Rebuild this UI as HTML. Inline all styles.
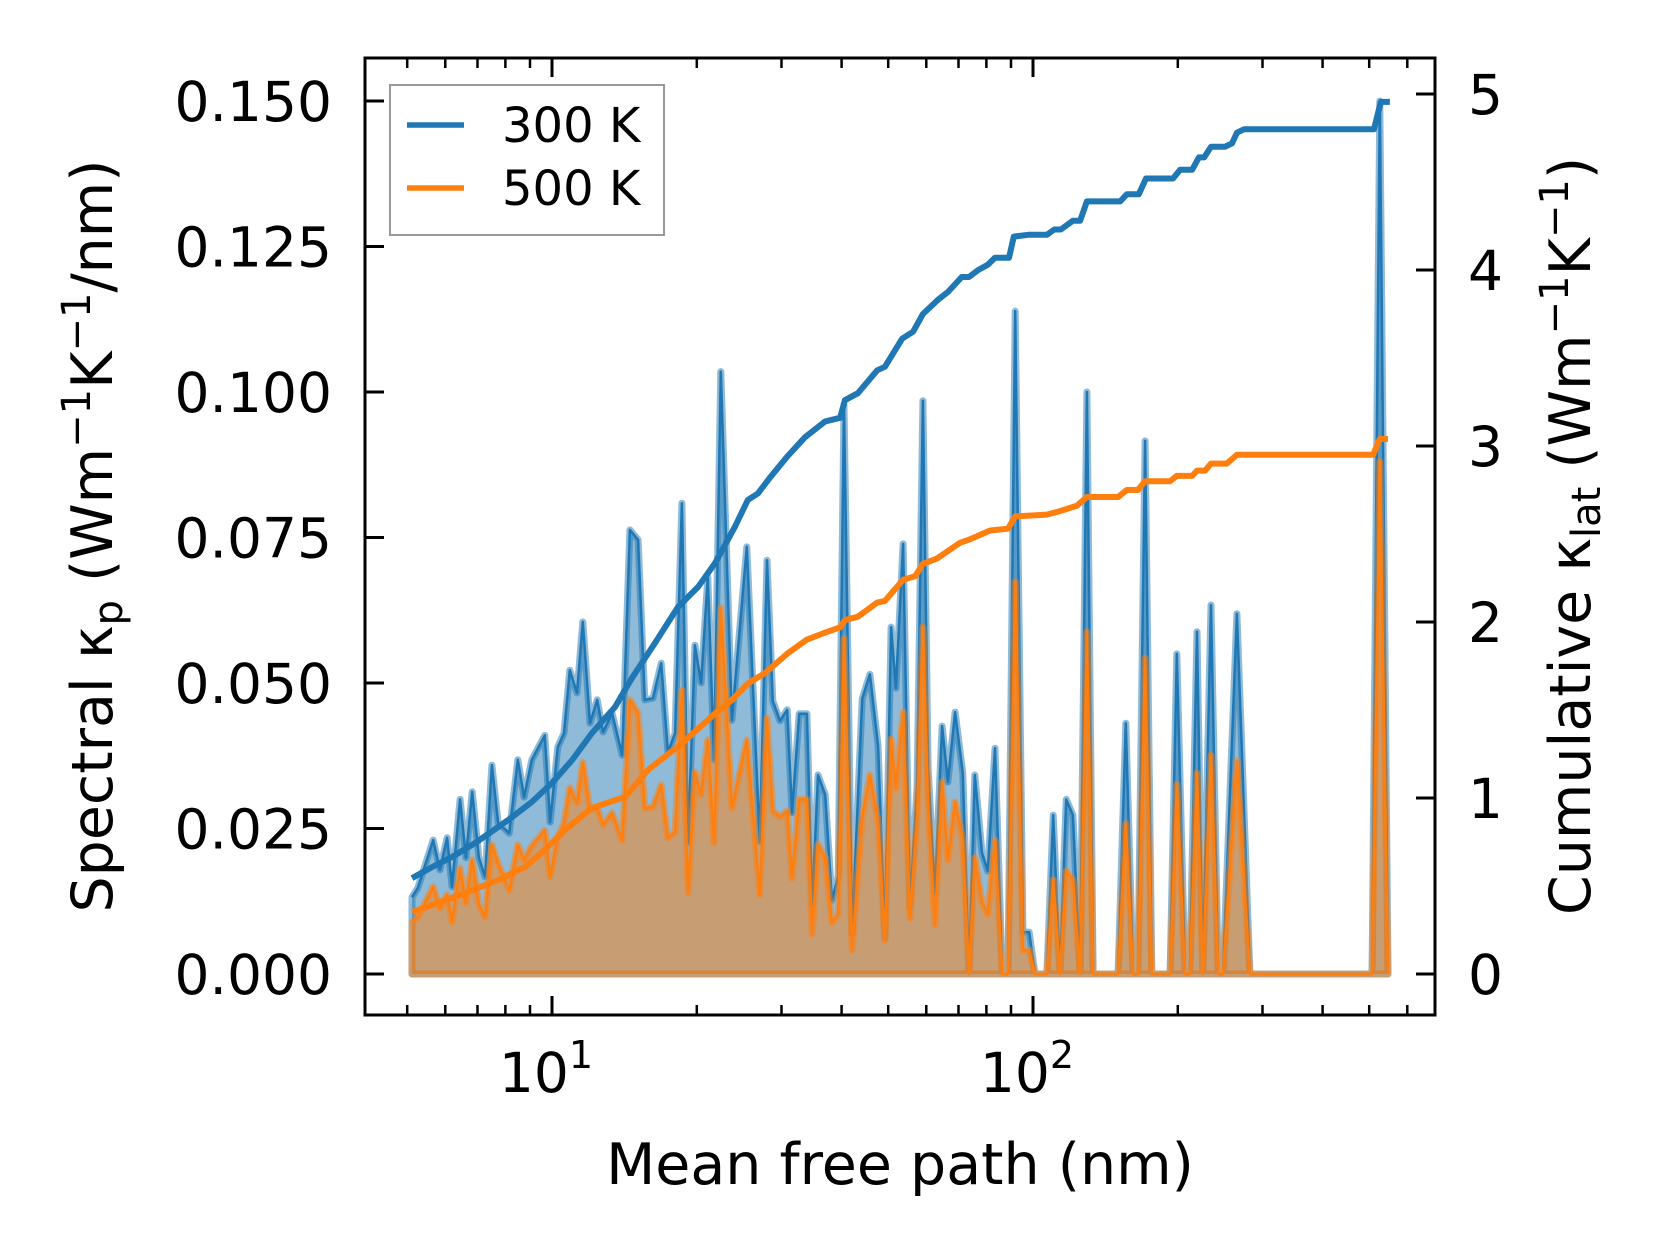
<!DOCTYPE html>
<html><head><meta charset="utf-8">
<style>
html,body{margin:0;padding:0;background:#fff;}
svg{display:block;font-family:"DejaVu Sans","Liberation Sans",sans-serif;}
</style></head>
<body>
<svg id="chart" width="1660" height="1254" viewBox="0 0 1660 1254" xmlns="http://www.w3.org/2000/svg">
<rect width="1660" height="1254" fill="#fff"/>
<g id="series"></g>
<g id="axes"></g>
<text x="900" y="1184" font-size="57" text-anchor="middle">Mean free path (nm)</text>
<text transform="translate(112,536) rotate(-90)" font-size="57" text-anchor="middle">Spectral κ<tspan font-size="40" dy="10">p</tspan><tspan dy="-10"> (Wm</tspan><tspan font-size="40" dy="-22">−1</tspan><tspan dy="22">K</tspan><tspan font-size="40" dy="-22">−1</tspan><tspan dy="22">/nm)</tspan></text>
<text transform="translate(1590,536) rotate(-90)" font-size="57" text-anchor="middle">Cumulative κ<tspan font-size="40" dy="10">lat</tspan><tspan dy="-10"> (Wm</tspan><tspan font-size="40" dy="-22">−1</tspan><tspan dy="22">K</tspan><tspan font-size="40" dy="-22">−1</tspan><tspan dy="22">)</tspan></text>
<g>
<rect x="390" y="85" width="274" height="150" fill="#fff" stroke="#999" stroke-width="2"/>
<line x1="407" y1="125" x2="464" y2="125" stroke="#1f77b4" stroke-width="5.5"/>
<text x="502" y="142" font-size="48">300 K</text>
<line x1="407" y1="188" x2="464" y2="188" stroke="#ff7f0e" stroke-width="5.5"/>
<text x="502" y="205" font-size="48">500 K</text>
</g>
</svg>
<script>
// spectral data: log10 of mean free path (nm)
const specMfpLog10 = [0.709,0.721,0.753,0.767,0.782,0.792,0.809,0.821,0.834,0.848,0.861,0.875,0.888,0.911,0.929,0.942,0.958,0.985,0.996,1.012,1.025,1.037,1.052,1.064,1.079,1.094,1.106,1.125,1.146,1.162,1.179,1.193,1.210,1.227,1.241,1.256,1.270,1.283,1.297,1.310,1.324,1.337,1.351,1.374,1.405,1.432,1.447,1.459,1.474,1.489,1.499,1.514,1.530,1.541,1.553,1.568,1.582,1.595,1.607,1.624,1.645,1.661,1.678,1.692,1.705,1.715,1.730,1.744,1.759,1.771,1.782,1.796,1.811,1.823,1.838,1.854,1.867,1.879,1.894,1.906,1.921,1.936,1.948,1.963,1.979,1.992,2.004,2.029,2.042,2.056,2.069,2.083,2.098,2.112,2.125,2.177,2.193,2.208,2.218,2.233,2.247,2.285,2.299,2.316,2.326,2.341,2.353,2.370,2.385,2.395,2.424,2.451,2.705,2.721,2.738];
const spec300 = [0.0132,0.0148,0.023,0.0179,0.0234,0.015,0.030,0.020,0.0313,0.020,0.0167,0.0359,0.026,0.0242,0.0368,0.0304,0.0368,0.041,0.0261,0.039,0.0414,0.0522,0.0483,0.0605,0.0431,0.0471,0.0416,0.0448,0.0376,0.0763,0.0746,0.0471,0.0474,0.0534,0.0381,0.0414,0.0809,0.0225,0.0565,0.05,0.0682,0.0368,0.1035,0.0436,0.0734,0.0227,0.0711,0.0469,0.0435,0.0454,0.0277,0.0447,0.0447,0.0119,0.0342,0.0308,0.0127,0.0168,0.0978,0.0069,0.0473,0.0515,0.0392,0.0062,0.0596,0.0491,0.0739,0.0115,0.0323,0.0985,0.0354,0.0139,0.0426,0.033,0.045,0.0345,0,0.0342,0.0208,0.0177,0.0388,0,0,0.1139,0.0072,0.0072,0,0,0.0273,0,0.03,0.0273,0,0.1,0,0,0.0431,0,0,0.0916,0,0,0.055,0,0,0.0588,0,0.0634,0,0,0.0619,0,0,0.150,0];
const spec500 = [0.0089,0.0098,0.015,0.0113,0.0136,0.0089,0.0182,0.0122,0.0196,0.0119,0.0098,0.0222,0.019,0.0144,0.0222,0.0196,0.022,0.0247,0.0167,0.0235,0.026,0.032,0.0294,0.0364,0.0282,0.0285,0.0256,0.0277,0.023,0.0471,0.0448,0.0285,0.0287,0.0325,0.0234,0.0244,0.0488,0.0139,0.0347,0.0308,0.0402,0.0225,0.0629,0.0285,0.0402,0.0136,0.044,0.028,0.027,0.028,0.0165,0.03,0.03,0.0069,0.0223,0.02,0.0088,0.0103,0.0577,0.0041,0.027,0.0342,0.0261,0.0058,0.0404,0.032,0.045,0.0096,0.027,0.0596,0.0292,0.0084,0.033,0.0196,0.0296,0.023,0,0.02,0.0124,0.0103,0.023,0,0,0.0674,0.0041,0.0041,0,0,0.0162,0,0.0177,0.0162,0,0.0588,0,0,0.0258,0,0,0.0543,0,0,0.0326,0,0,0.0345,0,0.0376,0,0,0.0366,0,0,0.0881,0];
// cumulative data
const cum300MfpLog10 = [0.709,0.751,0.792,0.840,0.909,0.958,1.000,1.042,1.083,1.131,1.166,1.214,1.262,1.304,1.339,1.380,1.407,1.428,1.453,1.489,1.526,1.568,1.599,1.609,1.636,1.676,1.692,1.728,1.751,1.771,1.802,1.823,1.852,1.867,1.886,1.906,1.921,1.950,1.960,1.990,2.029,2.044,2.058,2.083,2.098,2.112,2.181,2.195,2.220,2.235,2.291,2.306,2.331,2.345,2.356,2.370,2.399,2.414,2.424,2.439,2.709,2.723,2.742];
const cum300 = [0.545,0.608,0.665,0.744,0.875,0.977,1.085,1.216,1.369,1.517,1.68,1.88,2.085,2.2,2.335,2.54,2.693,2.73,2.82,2.94,3.05,3.14,3.16,3.26,3.3,3.43,3.45,3.61,3.65,3.75,3.83,3.875,3.96,3.96,4.0,4.03,4.07,4.07,4.19,4.2,4.2,4.23,4.23,4.28,4.28,4.39,4.39,4.43,4.43,4.52,4.52,4.57,4.57,4.64,4.64,4.7,4.7,4.72,4.78,4.8,4.8,4.955,4.955];
const cum500MfpLog10 = [0.709,0.751,0.819,0.888,0.944,0.985,1.027,1.083,1.152,1.200,1.270,1.339,1.374,1.407,1.443,1.489,1.530,1.568,1.599,1.609,1.636,1.676,1.692,1.730,1.755,1.771,1.800,1.848,1.869,1.911,1.948,1.963,2.029,2.056,2.091,2.112,2.177,2.195,2.218,2.233,2.285,2.299,2.331,2.341,2.358,2.370,2.403,2.424,2.707,2.721,2.738];
const cum500 = [0.352,0.392,0.46,0.534,0.608,0.705,0.818,0.943,1.006,1.16,1.31,1.48,1.557,1.65,1.71,1.82,1.9,1.94,1.97,2.01,2.03,2.11,2.12,2.24,2.26,2.33,2.36,2.45,2.47,2.52,2.53,2.6,2.61,2.63,2.66,2.71,2.71,2.75,2.75,2.8,2.8,2.83,2.83,2.86,2.86,2.9,2.9,2.95,2.95,3.04,3.04];
const leftTicks = [0, 0.025, 0.05, 0.075, 0.1, 0.125, 0.15];
const leftTickLabels = ["0.000","0.025","0.050","0.075","0.100","0.125","0.150"];
const rightTicks = [0,1,2,3,4,5];
const xMajorExp = [1, 2];
const xMinor = [5,6,7,8,9,20,30,40,50,60,70,80,90,200,300,400,500,600];

const NS = "http://www.w3.org/2000/svg";
const AX = {l:365, r:1435, t:58, b:1015};
const xs = v => 552 + (Math.log10(v) - 1) * 481;
const yL = v => 974 - v / 0.025 * 145.5;
const yR = v => 974 - v * 176;
function mk(tag, attrs, parent){const e=document.createElementNS(NS,tag);for(const k in attrs)e.setAttribute(k,attrs[k]);parent.appendChild(e);return e;}
const series = document.getElementById('series');
const axes = document.getElementById('axes');

function spectral(vals, rgb, name){
  const pts = specMfpLog10.map((L,i)=>[xs(Math.pow(10,L)), yL(vals[i])]);
  const y0 = yL(0);
  let d = 'M'+pts[0][0].toFixed(1)+','+y0.toFixed(1);
  pts.forEach(p=>{d+=' L'+p[0].toFixed(1)+','+p[1].toFixed(1);});
  d += ' L'+pts[pts.length-1][0].toFixed(1)+','+y0.toFixed(1)+' Z';
  const f = mk('path',{d:d,fill:'rgba('+rgb+',0.5)',stroke:'rgba('+rgb+',0.5)','stroke-width':7,'stroke-linejoin':'round'},series);
  
  
  const l = mk('polyline',{points:pts.map(p=>p[0].toFixed(1)+','+p[1].toFixed(1)).join(' '),fill:'none',stroke:'rgb('+rgb+')','stroke-width':2.5,'stroke-linejoin':'round'},series);
  
  
}
spectral(spec300,'31,119,180','spectral-300k');
spectral(spec500,'255,127,14','spectral-500k');

function cumul(xsL, vals, color, name){
  const pts = xsL.map((L,i)=>xs(Math.pow(10,L)).toFixed(1)+','+yR(vals[i]).toFixed(1)).join(' ');
  const l = mk('polyline',{points:pts,fill:'none',stroke:color,'stroke-width':6,'stroke-linejoin':'round'},series);
  
  
}
cumul(cum300MfpLog10, cum300, '#1f77b4', 'cumulative-300k-line');
cumul(cum500MfpLog10, cum500, '#ff7f0e', 'cumulative-500k-line');

// frame
const fr = mk('rect',{x:AX.l,y:AX.t,width:AX.r-AX.l,height:AX.b-AX.t,fill:'none',stroke:'#000','stroke-width':3},axes);


const tk = {stroke:'#000','stroke-width':3};
leftTicks.forEach((v,i)=>{
  const y=yL(v);
  const t=mk('line',Object.assign({x1:AX.l,x2:AX.l+19,y1:y,y2:y},tk),axes);
  
  
  const tx=mk('text',{x:332,y:y+20,'font-size':55,'text-anchor':'end'},axes);
  tx.textContent=leftTickLabels[i];
  
  
});
rightTicks.forEach(v=>{
  const y=yR(v);
  const t=mk('line',Object.assign({x1:AX.r-19,x2:AX.r,y1:y,y2:y},tk),axes);
  
  
  const tx=mk('text',{x:1468,y:y+20,'font-size':55},axes);
  tx.textContent=String(v);
  
  
});
xMajorExp.forEach(e=>{
  const x=xs(Math.pow(10,e));
  [[AX.b-19,AX.b],[AX.t,AX.t+19]].forEach(s=>{
    const t=mk('line',Object.assign({x1:x,x2:x,y1:s[0],y2:s[1]},tk),axes);
    
    
  });
  const tx=mk('text',{x:x-6,y:1092,'font-size':55,'text-anchor':'middle'},axes);
  tx.textContent='10';
  const sp=mk('tspan',{'font-size':38,dy:-24},tx);
  sp.textContent=String(e);
  
  
});
xMinor.forEach(v=>{
  const x=xs(v);
  [[AX.b-10,AX.b],[AX.t,AX.t+10]].forEach(s=>{
    const t=mk('line',{x1:x,x2:x,y1:s[0],y2:s[1],stroke:'#000','stroke-width':2.5},axes);
    
    
  });
});
</script>
</body></html>
